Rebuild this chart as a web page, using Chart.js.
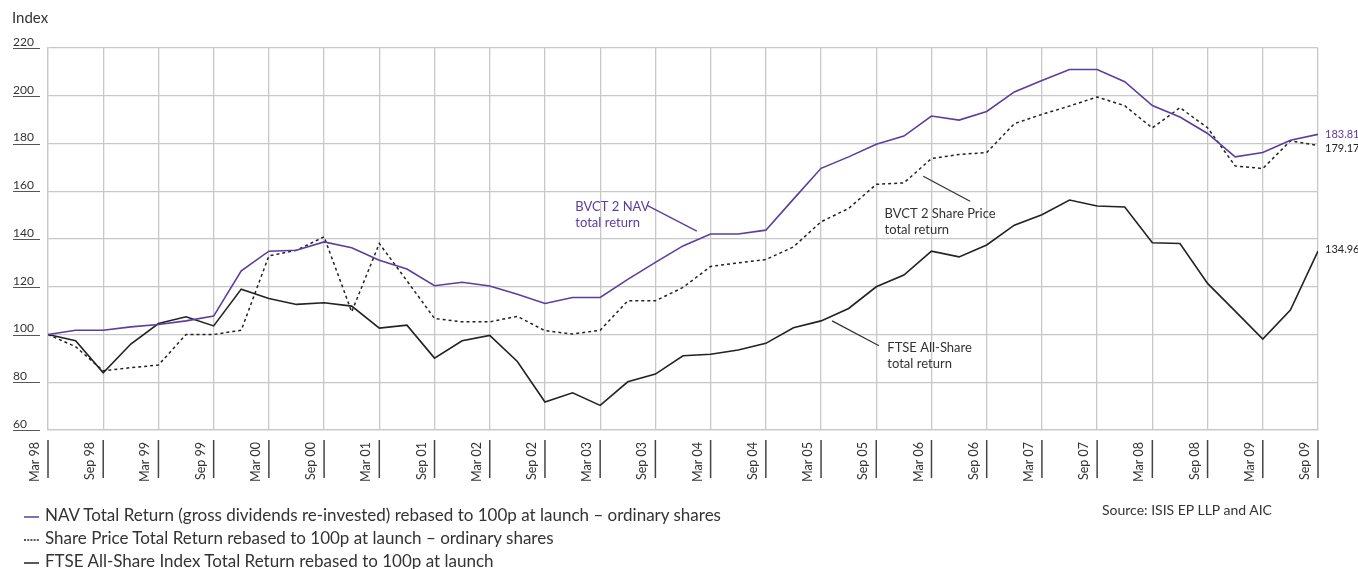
<!DOCTYPE html>
<html>
<head>
<meta charset="utf-8">
<script src="https://cdn.jsdelivr.net/npm/chart.js@4.4.1/dist/chart.umd.min.js"></script>
<style>
  html, body { margin: 0; padding: 0; background: #fff; }
  #wrap { position: relative; width: 1358px; height: 569px; font-family: Lato, "Open Sans", sans-serif; color: #333; }
  #wrap canvas { position: absolute; left: 0; top: 0; }
  .note { position: absolute; white-space: nowrap; }
  #yTitle { left: 12px; top: 8px; font-size: 15px; }
  #legend { left: 24px; top: 503px; font-size: 17px; line-height: 23px; }
  #legend svg { vertical-align: middle; margin-right: 6px; }
  #source { left: 1102px; top: 501px; font-size: 14px; }
</style>
</head>
<body>
<div id="wrap">
  <canvas id="chart" width="1358" height="569"></canvas>
  <div class="note" id="yTitle">Index</div>
  <div class="note" id="legend"></div>
  <div class="note" id="source">Source: ISIS EP LLP and AIC</div>
</div>
<script>
// quarterly points, Mar 98 .. Sep 09 (47 quarters)
const xTickLabels = ["Mar 98", "Sep 98", "Mar 99", "Sep 99", "Mar 00", "Sep 00", "Mar 01", "Sep 01",
  "Mar 02", "Sep 02", "Mar 03", "Sep 03", "Mar 04", "Sep 04", "Mar 05", "Sep 05", "Mar 06", "Sep 06",
  "Mar 07", "Sep 07", "Mar 08", "Sep 08", "Mar 09", "Sep 09"];
const yTicks = [60, 80, 100, 120, 140, 160, 180, 200, 220];

const navReturn = [100, 101.8, 101.8, 103.2, 104.2, 105.7, 107.7, 126.7, 134.9, 135.3, 138.8, 136.3,
  131.1, 127.4, 120.4, 121.9, 120.3, 116.9, 113.0, 115.5, 115.5, 123.1, 130.2, 137.1, 142.1, 142.1,
  143.7, 156.7, 169.6, 174.4, 179.7, 183.1, 191.5, 189.8, 193.4, 201.6, 206.4, 211.0, 211.0, 205.9,
  195.9, 191.1, 184.2, 174.4, 176.2, 181.4, 183.81];
const sharePrice = [100, 94.9, 84.8, 86.1, 87.2, 100, 100, 101.8, 132.9, 135.3, 140.9, 109.5,
  138.1, 122.5, 106.7, 105.3, 105.3, 107.6, 101.6, 100.2, 101.8, 114.1, 114.1, 119.7, 128.5, 130.0,
  131.4, 136.7, 147.2, 152.8, 162.9, 163.5, 173.7, 175.4, 176.2, 188.3, 192.2, 195.7, 199.5, 195.8,
  186.5, 195.0, 186.6, 170.6, 169.5, 181.1, 179.17];
const ftseAllShare = [100, 97.4, 84.0, 96.0, 104.6, 107.4, 103.6, 119.0, 115.1, 112.6, 113.3, 111.9,
  102.7, 103.9, 90.1, 97.4, 99.6, 88.7, 71.7, 75.6, 70.3, 80.2, 83.4, 91.1, 91.7, 93.5,
  96.3, 102.8, 105.7, 110.9, 120.0, 124.9, 134.9, 132.5, 137.5, 145.8, 150.2, 156.3, 153.8, 153.4,
  138.4, 138.1, 121.4, 109.8, 98.1, 110.2, 134.96];

const legendLabels = [
  "NAV Total Return (gross dividends re-invested) rebased to 100p at launch – ordinary shares",
  "Share Price Total Return rebased to 100p at launch – ordinary shares",
  "FTSE All-Share Index Total Return rebased to 100p at launch"
];

const PURPLE = "#5a3ea0";
const DARK = "#222";
const GRID = "#c8c8c8";

// callouts placed in data space (quarter index, index value)
const callouts = [
  { lines: ["BVCT 2 NAV", "total return"], color: PURPLE, at: [19.1, 153.3], from: [21.7, 154.1], to: [23.5, 143.3] },
  { lines: ["BVCT 2 Share Price", "total return"], color: "#333", at: [30.3, 150.4], from: [31.7, 166.3], to: [33.4, 155.8] },
  { lines: ["FTSE All-Share", "total return"], color: "#333", at: [30.4, 94.3], from: [28.4, 105.7], to: [30.1, 95.3] }
];

const toPoints = arr => arr.map((v, i) => ({ x: i, y: v }));

const chartMarks = {
  id: "chartMarks",
  afterDraw(chart) {
    const { ctx, chartArea, scales: { x, y } } = chart;
    ctx.save();
    // underline under each y label
    ctx.strokeStyle = "#555";
    ctx.lineWidth = 1;
    yTicks.forEach(v => {
      const py = Math.round(y.getPixelForValue(v)) + 0.5;
      ctx.beginPath();
      ctx.moveTo(y.left, py);
      ctx.lineTo(chartArea.left - 8, py);
      ctx.stroke();
    });
    // vertical bars beside the x labels
    ctx.lineWidth = 1.5;
    ctx.strokeStyle = "#444";
    x.ticks.forEach(t => {
      const px = x.getPixelForValue(t.value);
      ctx.beginPath();
      ctx.moveTo(px, chartArea.bottom + 10);
      ctx.lineTo(px, chartArea.bottom + 48);
      ctx.stroke();
    });
    // callouts
    ctx.font = "13px Lato, 'Open Sans', sans-serif";
    ctx.textBaseline = "middle";
    ctx.textAlign = "left";
    callouts.forEach(c => {
      ctx.strokeStyle = c.color;
      ctx.lineWidth = 1.3;
      ctx.beginPath();
      ctx.moveTo(x.getPixelForValue(c.from[0]), y.getPixelForValue(c.from[1]));
      ctx.lineTo(x.getPixelForValue(c.to[0]), y.getPixelForValue(c.to[1]));
      ctx.stroke();
      ctx.fillStyle = c.color;
      const tx = x.getPixelForValue(c.at[0]);
      const ty = y.getPixelForValue(c.at[1]);
      c.lines.forEach((line, k) => ctx.fillText(line, tx, ty + k * 16));
    });
    // end values
    const last = navReturn.length - 1;
    const ex = chartArea.right + 7;
    ctx.font = "11px Lato, 'Open Sans', sans-serif";
    ctx.fillStyle = PURPLE;
    ctx.fillText(navReturn[last].toFixed(2), ex, y.getPixelForValue(navReturn[last]));
    ctx.fillStyle = DARK;
    ctx.fillText(sharePrice[last].toFixed(2), ex, y.getPixelForValue(sharePrice[last]) + 3);
    ctx.fillText(ftseAllShare[last].toFixed(2), ex, y.getPixelForValue(ftseAllShare[last]) - 2);
    ctx.restore();
  }
};

Chart.defaults.font.family = "Lato, 'Open Sans', sans-serif";
Chart.defaults.color = "#333";

new Chart(document.getElementById("chart"), {
  type: "line",
  data: {
    datasets: [
      { label: legendLabels[0], data: toPoints(navReturn), borderColor: PURPLE, borderWidth: 1.6 },
      { label: legendLabels[1], data: toPoints(sharePrice), borderColor: DARK, borderWidth: 1.5, borderDash: [3, 3] },
      { label: legendLabels[2], data: toPoints(ftseAllShare), borderColor: DARK, borderWidth: 1.6 }
    ]
  },
  options: {
    responsive: false,
    animation: false,
    elements: { point: { radius: 0 }, line: { tension: 0 } },
    layout: { padding: { left: 13, top: 48, right: 40, bottom: 79 } },
    plugins: { legend: { display: false }, tooltip: { enabled: false } },
    scales: {
      x: {
        type: "linear",
        min: 0,
        max: navReturn.length - 1,
        afterFit(scale) { scale.height = 60; },
        grid: { color: GRID, lineWidth: 1.3, drawTicks: false },
        border: { color: GRID, width: 1.3 },
        ticks: {
          stepSize: 2,
          autoSkip: false,
          minRotation: 90,
          maxRotation: 90,
          padding: 12,
          labelOffset: -13,
          font: { size: 12.5 },
          color: "#333",
          callback: v => xTickLabels[v / 2]
        }
      },
      y: {
        min: 60,
        max: 220,
        afterFit(scale) { scale.width = 35; },
        grid: { color: GRID, lineWidth: 1.3, drawTicks: false },
        border: { color: GRID, width: 1.3 },
        ticks: {
          stepSize: 20,
          crossAlign: "far",
          labelOffset: -6,
          font: { size: 12 },
          color: "#333"
        }
      }
    }
  },
  plugins: [chartMarks]
});

// legend with line samples
const legendEl = document.getElementById("legend");
const samples = [
  '<line x1="0" y1="4" x2="15" y2="4" stroke="' + PURPLE + '" stroke-width="1.5"/>',
  '<line x1="0" y1="4" x2="15" y2="4" stroke="' + DARK + '" stroke-width="1.3" stroke-dasharray="2 1.2"/>',
  '<line x1="0" y1="4" x2="15" y2="4" stroke="' + DARK + '" stroke-width="1.5"/>'
];
legendLabels.forEach((txt, i) => {
  const row = document.createElement("div");
  row.innerHTML = '<svg width="15" height="8">' + samples[i] + '</svg>';
  row.appendChild(document.createTextNode(txt));
  legendEl.appendChild(row);
});
</script>
</body>
</html>
